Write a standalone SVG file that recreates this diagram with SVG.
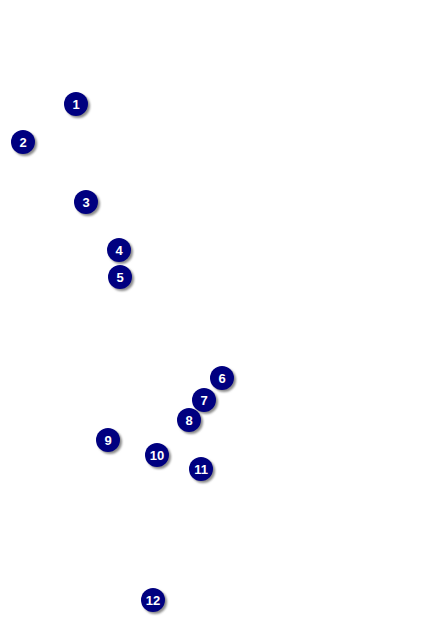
<svg xmlns="http://www.w3.org/2000/svg" width="442" height="624" viewBox="0 0 442 624">
<defs>
<filter id="sh" x="-50%" y="-50%" width="200%" height="200%"><feGaussianBlur stdDeviation="1"/></filter>
<g id="m"><circle cx="2" cy="2" r="12" fill="#8a8a8a" filter="url(#sh)"/><circle r="12" fill="#000080"/></g>
</defs>
<style>text{font-family:"Liberation Sans",Arial,sans-serif;font-weight:bold;font-size:13px;fill:#fff;text-anchor:middle}</style>
<rect width="442" height="624" fill="#fff"/>
<g id="connectors"/>
<g id="n1" transform="translate(76,104)"><use href="#m"/><text y="5">1</text></g>
<g id="n2" transform="translate(23,142)"><use href="#m"/><text y="5">2</text></g>
<g id="n3" transform="translate(86,202)"><use href="#m"/><text y="5">3</text></g>
<g id="n4" transform="translate(119,250)"><use href="#m"/><text y="5">4</text></g>
<g id="n5" transform="translate(120,277)"><use href="#m"/><text y="5">5</text></g>
<g id="n6" transform="translate(222,378)"><use href="#m"/><text y="5">6</text></g>
<g id="n7" transform="translate(204,400)"><use href="#m"/><text y="5">7</text></g>
<g id="n8" transform="translate(189,420)"><use href="#m"/><text y="5">8</text></g>
<g id="n9" transform="translate(108,440)"><use href="#m"/><text y="5">9</text></g>
<g id="n10" transform="translate(157,455)"><use href="#m"/><text y="5">10</text></g>
<g id="n11" transform="translate(201,469)"><use href="#m"/><text y="5">11</text></g>
<g id="n12" transform="translate(153,600)"><use href="#m"/><text y="5">12</text></g>
</svg>
